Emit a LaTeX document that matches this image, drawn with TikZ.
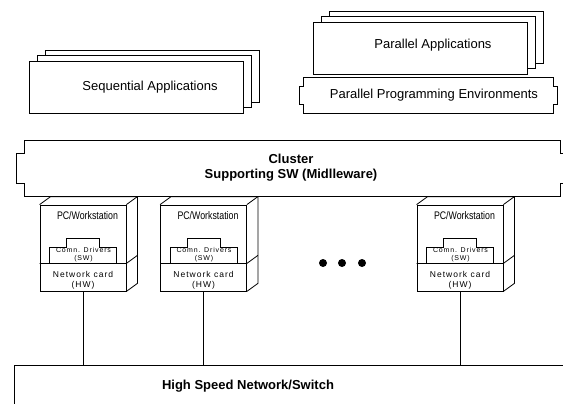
\documentclass[tikz,border=0pt]{standalone}
\usepackage{fontspec}
\setmainfont{Liberation Sans}
\newfontfamily\narrowfont[FakeStretch=0.8]{Liberation Sans}
\newfontfamily\spacedfont[LetterSpace=12]{Liberation Sans}
\usetikzlibrary{positioning,calc}

\tikzset{
  frame/.style={draw, line width=0.8pt},
  appbox/.style={frame, fill=white, minimum width=214pt, minimum height=52pt, inner sep=0pt},
  pcface/.style={frame, minimum width=86pt, minimum height=86pt, inner sep=0pt},
  biglabel/.style={font=\fontsize{13}{15}\selectfont},
  boldlabel/.style={font=\fontsize{13}{15}\bfseries\selectfont, align=center},
  swlabel/.style={font=\spacedfont\fontsize{7}{8}\selectfont, align=center},
  hwlabel/.style={font=\spacedfont\fontsize{8.5}{10}\selectfont, align=center},
}

% frame with side tabs: x1 y1 x2 y2, tab from y5 to y6, tab depth
\newcommand{\tabframe}[7]{%
  \draw[frame] (#1,#2) -- (#3,#2) -- (#3,#5) -- (#3+#7,#5) -- (#3+#7,#6) -- (#3,#6)
    -- (#3,#4) -- (#1,#4) -- (#1,#6) -- (#1-#7,#6) -- (#1-#7,#5) -- (#1,#5) -- cycle;}

\begin{document}
\begin{tikzpicture}[x=1pt, y=-1pt]
\useasboundingbox (0,0) rectangle (563,404);
\clip (0,0) rectangle (563,404);

% application stacks
\foreach \dx/\dy in {16/11, 8/5.5} {
  \node[appbox] at (136.5+\dx, 87-\dy) {};
  \node[appbox] at (420+\dx, 48-\dy) {};
}
\node[appbox] (seq) at (136.5,87) {};
\node[biglabel] (seqlabel) at ($(seq.center)+(13.5,0)$) {Sequential Applications};
\node[appbox] (par) at (420,48) {};
\node[biglabel] (parlabel) at ($(par.center)+(13,-3)$) {Parallel Applications};

% programming environments and middleware
\tabframe{303}{77}{553}{113}{86}{104}{4}
\node[biglabel] (ppe) at (434,95) {Parallel Programming Environments};
\tabframe{24}{140}{560}{196}{153}{183}{8}
\node[boldlabel] (mid) at (291,167.5) {Cluster\\Supporting SW (Midlleware)};

% workstations
\foreach \n/\cx in {1/83, 2/203.5, 3/460} {
  \node[pcface] (pc\n) at (\cx,248) {};
  \draw[frame] (pc\n.north west) -- ++(11,-8) -| ($(pc\n.south east)+(11,-8)$) -- (pc\n.south east);
  \draw[frame] (pc\n.north east) -- ++(11,-8);
  \draw[frame] ($(pc\n.south west)+(0,-28)$) -- ($(pc\n.south east)+(0,-28)$) -- ++(11,-8);
  \draw[frame] ($(pc\n.south west)+(10,-28)$) -- ++(0,-16) -- ++(17,0) -- ++(0,-9)
    -- ++(33,0) -- ++(0,9) -- ++(17,0) -- ++(0,16);
  \node[font=\narrowfont\fontsize{11}{12}\selectfont] (pclabel\n) at ($(pc\n.north)+(4.5,11)$) {PC/Workstation};
  \node[swlabel] (sw\n) at ($(pc\n.south)+(0.5,-36.5)$) {Comn. Drivers\\(SW)};
  \node[hwlabel] (hw\n) at ($(pc\n.south)+(0,-11.5)$) {Network card\\(HW)};
}
\foreach \x in {323,342,362} \fill (\x,263) circle (4pt);

% network
\node[frame, minimum width=600pt, minimum height=60pt, anchor=north west, inner sep=0pt] (net) at (14,365) {};
\node[boldlabel] (netlabel) at (248,386) {High Speed Network/Switch};
\foreach \n in {1,2,3} \draw[frame] (pc\n.south) -- (pc\n.south |- net.north);
\end{tikzpicture}
\end{document}
